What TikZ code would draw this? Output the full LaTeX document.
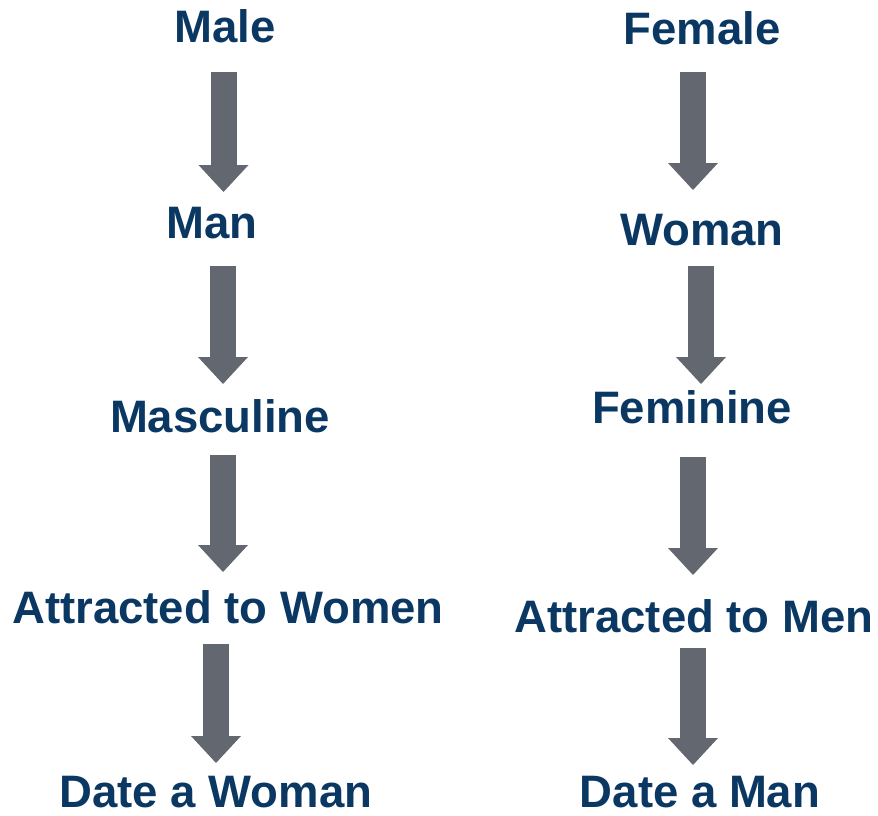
\documentclass[tikz,border=0pt]{standalone}
\usepackage{fontspec}
\setmainfont{Liberation Sans}
\usepackage{xcolor}
\usepackage{tikz}
\usetikzlibrary{arrows.meta}
\definecolor{navy}{RGB}{11,56,99}
\definecolor{arrowgray}{RGB}{99,104,112}

\begin{document}
\begin{tikzpicture}[x=1pt,y=-1pt,
		word/.style={anchor=base,inner sep=0pt,text depth=0pt,text=navy,font=\bfseries\fontsize{45.5}{45.5}\selectfont},
		blockarrow/.style={draw=arrowgray,line width=26pt,-{Triangle[width=50pt,length=27pt,line width=0pt]}}]
		\useasboundingbox (0,0) rectangle (878,816);
		% left column
		\node[word] (male) at (225,43) {Male};
		\node[word] (man) at (212,238) {Man};
		\node[word] (masc) at (220,432) {Masculine};
		\node[word] (women) at (228,623) {Attracted to Women};
		\node[word] (datewoman) at (216,807.5) {Date a Woman};
		% right column
		\node[word] (female) at (702,45) {Female};
		\node[word] (woman) at (702,245) {Woman};
		\node[word] (fem) at (692,423) {Feminine};
		\node[word] (men) at (694,632) {Attracted to Men};
		\node[word] (dateman) at (700,807.5) {Date a Man};
		% arrow ends
		\coordinate (l1a) at (223.5,72);  \coordinate (l1b) at (223.5,192);
		\coordinate (l2a) at (223,266);   \coordinate (l2b) at (223,384);
		\coordinate (l3a) at (223,455);   \coordinate (l3b) at (223,572);
		\coordinate (l4a) at (216,644);   \coordinate (l4b) at (216,763);
		\coordinate (r1a) at (693,72);    \coordinate (r1b) at (693,190);
		\coordinate (r2a) at (701,266);   \coordinate (r2b) at (701,384);
		\coordinate (r3a) at (693,457);   \coordinate (r3b) at (693,575);
		\coordinate (r4a) at (693,648);   \coordinate (r4b) at (693,765);
		\draw[blockarrow] (l1a) -- (l1b);
		\draw[blockarrow] (l2a) -- (l2b);
		\draw[blockarrow] (l3a) -- (l3b);
		\draw[blockarrow] (l4a) -- (l4b);
		\draw[blockarrow] (r1a) -- (r1b);
		\draw[blockarrow] (r2a) -- (r2b);
		\draw[blockarrow] (r3a) -- (r3b);
		\draw[blockarrow] (r4a) -- (r4b);
	\end{tikzpicture}
\end{document}
